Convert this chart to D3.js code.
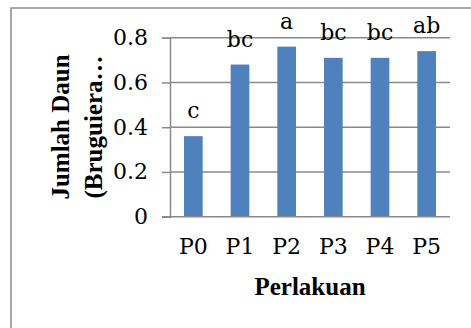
<!DOCTYPE html>
<html><head><meta charset="utf-8">
<script src="https://cdn.jsdelivr.net/npm/d3@7"></script>
<style>html,body{margin:0;padding:0;background:#fff;}svg{display:block;}</style>
</head><body>
<script>
const categories = ["P0","P1","P2","P3","P4","P5"];
const values = [0.36, 0.68, 0.76, 0.71, 0.71, 0.74];
const letters = ["c","bc","a","bc","bc","ab"];
const yTicks = [0, 0.2, 0.4, 0.6, 0.8];
const yTitle = ["Jumlah Daun", "(Bruguiera\u2026"];
const xTitle = "Perlakuan";

const W = 471, H = 328;
const svg = d3.select("body").append("svg").attr("width", W).attr("height", H);
svg.append("rect").attr("width", W).attr("height", H).attr("fill", "#fff");
svg.append("rect").attr("x", 11).attr("y", 8).attr("width", 480).attr("height", 340)
  .attr("fill", "none").attr("stroke", "#8c8c8c").attr("stroke-width", 1.5);

const x = d3.scaleBand().domain(categories).range([170, 450]).paddingInner(0.6).paddingOuter(0.3);
const y = d3.scaleLinear().domain([0, 0.8]).range([216.7, 37.7]);
const serif = "DejaVu Serif";
const boldSerif = "Liberation Serif";
const fs = 22;

svg.append("g").selectAll("line").data(yTicks.filter(d => d > 0)).join("line")
  .attr("x1", 170).attr("x2", 450).attr("y1", d => y(d)).attr("y2", d => y(d))
  .attr("stroke", "#8a8a8a").attr("stroke-width", 1.5);

const yAxis = d3.axisLeft(y).tickValues(yTicks).tickSize(8).tickPadding(14).tickFormat(d => d === 0 ? "0" : d3.format(".1f")(d));
const gy = svg.append("g").attr("transform", "translate(170,0)").call(yAxis)
  .attr("font-family", serif).attr("font-size", fs);
gy.select(".domain").attr("stroke", "#8a8a8a").attr("stroke-width", 1.5);
gy.selectAll(".tick line").attr("stroke", "#8a8a8a").attr("stroke-width", 1.5);
gy.selectAll("text").attr("fill", "#000");

svg.append("g").selectAll("rect").data(values).join("rect")
  .attr("x", (d, i) => x(categories[i])).attr("width", x.bandwidth())
  .attr("y", d => y(d)).attr("height", d => y(0) - y(d))
  .attr("fill", "#4f81bd");

const xAxis = d3.axisBottom(x).tickSize(0).tickPadding(22);
const gx = svg.append("g").attr("transform", `translate(0,${y(0)})`).call(xAxis)
  .attr("font-family", serif).attr("font-size", fs);
gx.select(".domain").attr("stroke", "#8a8a8a").attr("stroke-width", 1.5).attr("d", `M162,0H450`);
gx.selectAll("text").attr("fill", "#000");

svg.append("g").selectAll("text").data(values).join("text")
  .attr("x", (d, i) => x(categories[i]) + x.bandwidth() / 2)
  .attr("y", d => y(d) - 18)
  .attr("text-anchor", "middle").attr("font-size", fs).attr("font-family", serif)
  .text((d, i) => letters[i]);

svg.append("text").attr("x", 310).attr("y", 295).attr("text-anchor", "middle")
  .attr("font-family", boldSerif).attr("font-size", 25).attr("font-weight", "bold").text(xTitle);
yTitle.forEach((t, i) => {
  svg.append("text").attr("transform", `translate(${69 + i * 33},127) rotate(-90)`)
    .attr("text-anchor", "middle").attr("font-size", 25).attr("font-family", boldSerif)
    .attr("font-weight", "bold").text(t);
});
</script>
</body></html>
